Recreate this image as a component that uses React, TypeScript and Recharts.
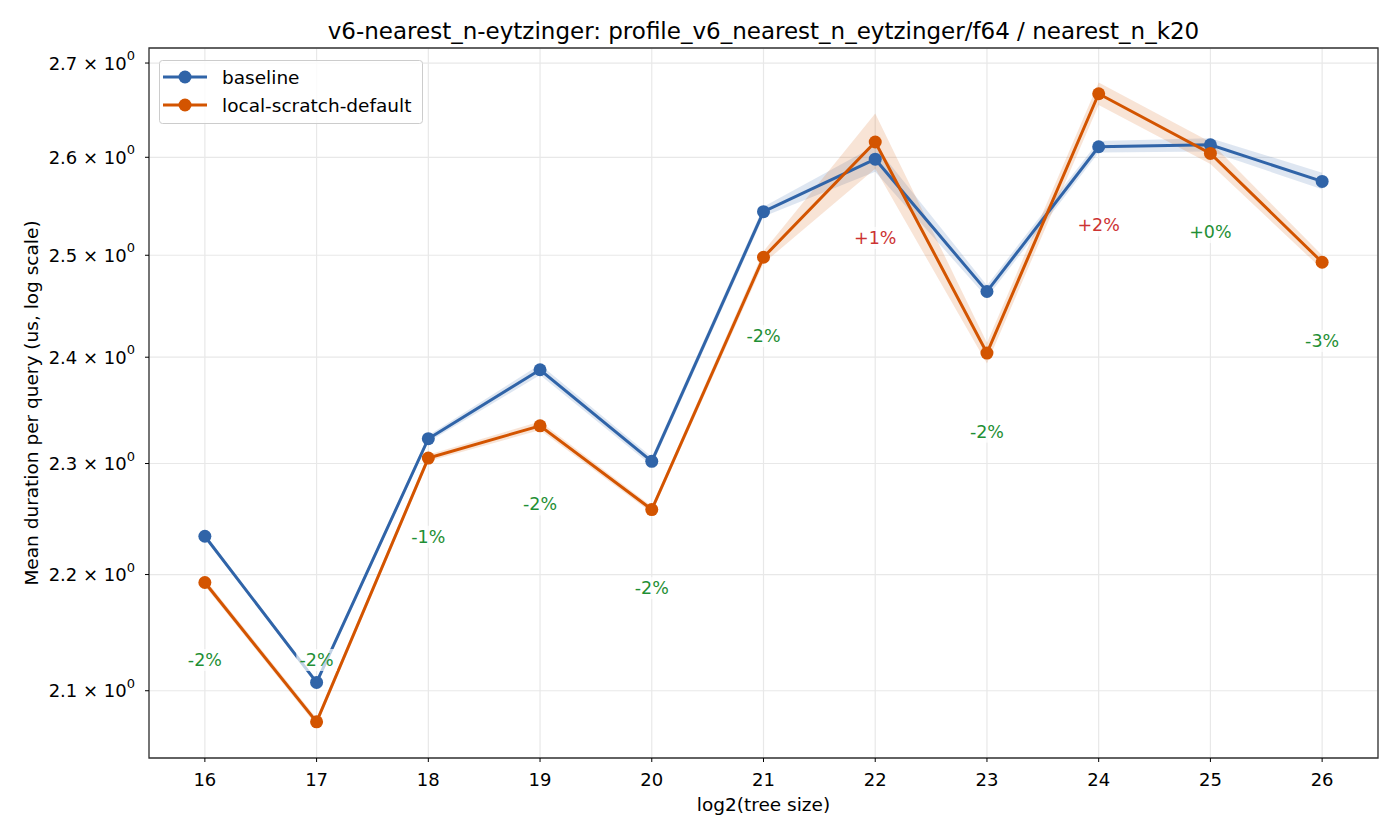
import React from 'react';
import {
  ComposedChart,
  Line,
  Area,
  XAxis,
  YAxis,
  CartesianGrid,
  ReferenceArea,
  LabelList,
} from 'recharts';

// log2 of the tree size
const treeSizes = [16, 17, 18, 19, 20, 21, 22, 23, 24, 25, 26];

// mean duration per query (us) with confidence band
const baselineMean = [2.234, 2.107, 2.323, 2.388, 2.302, 2.544, 2.598, 2.464, 2.611, 2.613, 2.575];
const baselineLo = [2.232, 2.105, 2.320, 2.383, 2.298, 2.539, 2.585, 2.458, 2.605, 2.606, 2.567];
const baselineHi = [2.236, 2.109, 2.326, 2.393, 2.306, 2.549, 2.612, 2.470, 2.617, 2.620, 2.584];

const scratchMean = [2.193, 2.074, 2.305, 2.335, 2.258, 2.498, 2.616, 2.404, 2.667, 2.604, 2.493];
const scratchLo = [2.190, 2.071, 2.302, 2.331, 2.255, 2.492, 2.588, 2.394, 2.655, 2.593, 2.486];
const scratchHi = [2.196, 2.077, 2.308, 2.339, 2.261, 2.504, 2.646, 2.414, 2.679, 2.616, 2.500];

// relative change of local-scratch-default vs baseline, in percent
const deltaPct = [-2, -2, -1, -2, -2, -2, 1, -2, 2, 0, -3];

const yTicks = [2.1, 2.2, 2.3, 2.4, 2.5, 2.6, 2.7];
const Y_DOMAIN: [number, number] = [2.0442, 2.7163];
const X_DOMAIN: [number, number] = [15.5, 26.5];

const BLUE = '#3064a8';
const ORANGE = '#d35400';
const GREEN = '#1f8f35';
const RED = '#cc3333';
const FONT = '"DejaVu Sans", sans-serif';

const data = treeSizes.map((x, i) => ({
  x,
  baseline: baselineMean[i],
  baselineBand: [baselineLo[i], baselineHi[i]],
  scratch: scratchMean[i],
  scratchBand: [scratchLo[i], scratchHi[i]],
  labelPos: Math.max(Math.min(baselineMean[i], scratchMean[i]) * 0.969, 2.126),
  delta: deltaPct[i],
}));

const YTick = (props: any) => {
  const { x, y, payload } = props;
  return (
    <text x={x - 8} y={y} textAnchor="end" dominantBaseline="central" fontFamily={FONT} fontSize={18} fill="#000">
      {payload.value.toFixed(1)} × 10
      <tspan dy={-8} fontSize={13}>0</tspan>
    </text>
  );
};

const XTick = (props: any) => {
  const { x, y, payload } = props;
  return (
    <text x={x} y={y + 15} textAnchor="middle" dominantBaseline="central" fontFamily={FONT} fontSize={18} fill="#000">
      {payload.value}
    </text>
  );
};

const DeltaLabel = (props: any) => {
  const { x, y, index } = props;
  const d = deltaPct[index];
  const txt = (d >= 0 ? '+' : '') + d + '%';
  const color = d > 0 ? RED : GREEN;
  const w = txt.length * 11.5 + 6;
  return (
    <g>
      <rect x={x - w / 2} y={y - 11} width={w} height={22} fill="#fff" fillOpacity={0.7} />
      <text x={x} y={y} textAnchor="middle" dominantBaseline="central" fontFamily={FONT} fontSize={17.5} fill={color}>
        {txt}
      </text>
    </g>
  );
};

const LegendBox = () => (
  <svg width={266} height={66} style={{ display: 'block' }}>
    <rect x={0.5} y={0.5} width={263} height={63} rx={3} fill="#fff" fillOpacity={0.8} stroke="#cccccc" />
    <line x1={4} y1={17} x2={48} y2={17} stroke={BLUE} strokeWidth={3} />
    <circle cx={26} cy={17} r={6.5} fill={BLUE} />
    <text x={63} y={17} dominantBaseline="central" fontFamily={FONT} fontSize={18.5} fill="#000">baseline</text>
    <line x1={4} y1={45} x2={48} y2={45} stroke={ORANGE} strokeWidth={3} />
    <circle cx={26} cy={45} r={6.5} fill={ORANGE} />
    <text x={63} y={45} dominantBaseline="central" fontFamily={FONT} fontSize={18.5} fill="#000">local-scratch-default</text>
  </svg>
);

export default function App() {
  return (
    <div style={{ position: 'absolute', left: 0, top: 0, width: 1400, height: 840, background: '#fff' }}>
      <div
        style={{
          position: 'absolute',
          left: 149,
          width: 1229,
          top: 17,
          textAlign: 'center',
          fontFamily: FONT,
          fontSize: 23,
          color: '#000',
          lineHeight: '28px',
          whiteSpace: 'nowrap',
        }}
      >
        v6-nearest_n-eytzinger: profile_v6_nearest_n_eytzinger/f64 / nearest_n_k20
      </div>
      <ComposedChart
        width={1400}
        height={840}
        data={data}
        margin={{ top: 48, right: 22, bottom: 52, left: 31 }}
      >
        <CartesianGrid stroke="#e8e8e8" strokeWidth={1.2} />
        <XAxis
          dataKey="x"
          type="number"
          domain={X_DOMAIN}
          ticks={treeSizes}
          allowDataOverflow
          height={30}
          axisLine={false}
          tickLine={{ stroke: '#000' }}
          tickSize={4}
          tick={<XTick />}
          label={{ value: 'log2(tree size)', position: 'bottom', offset: 10, fontFamily: FONT, fontSize: 18.5, fill: '#000' }}
        />
        <YAxis
          type="number"
          scale="log"
          domain={Y_DOMAIN}
          ticks={yTicks}
          allowDataOverflow
          width={118}
          axisLine={false}
          tickLine={{ stroke: '#000' }}
          tickSize={4}
          tick={<YTick />}
          label={{
            value: 'Mean duration per query (us, log scale)',
            angle: -90,
            position: 'insideLeft',
            offset: 0,
            style: { textAnchor: 'middle', fontFamily: FONT, fontSize: 18.5, fill: '#000' },
          }}
        />
        <Area dataKey="baselineBand" type="linear" stroke="none" fill={BLUE} fillOpacity={0.16} isAnimationActive={false} activeDot={false} />
        <Area dataKey="scratchBand" type="linear" stroke="none" fill={ORANGE} fillOpacity={0.16} isAnimationActive={false} activeDot={false} />
        <Line
          dataKey="baseline"
          type="linear"
          stroke={BLUE}
          strokeWidth={3}
          dot={{ r: 6.5, fill: BLUE, stroke: BLUE, strokeWidth: 0 }}
          activeDot={false}
          isAnimationActive={false}
        />
        <Line
          dataKey="scratch"
          type="linear"
          stroke={ORANGE}
          strokeWidth={3}
          dot={{ r: 6.5, fill: ORANGE, stroke: ORANGE, strokeWidth: 0 }}
          activeDot={false}
          isAnimationActive={false}
        />
        <Line dataKey="labelPos" stroke="none" dot={false} activeDot={false} isAnimationActive={false}>
          <LabelList dataKey="delta" content={<DeltaLabel />} />
        </Line>
        <ReferenceArea
          x1={X_DOMAIN[0]}
          x2={X_DOMAIN[1]}
          y1={Y_DOMAIN[0]}
          y2={Y_DOMAIN[1]}
          fill="none"
          stroke="#333"
          strokeWidth={1.3}
          ifOverflow="visible"
        />
      </ComposedChart>
      <div style={{ position: 'absolute', left: 159, top: 60 }}>
        <LegendBox />
      </div>
    </div>
  );
}
